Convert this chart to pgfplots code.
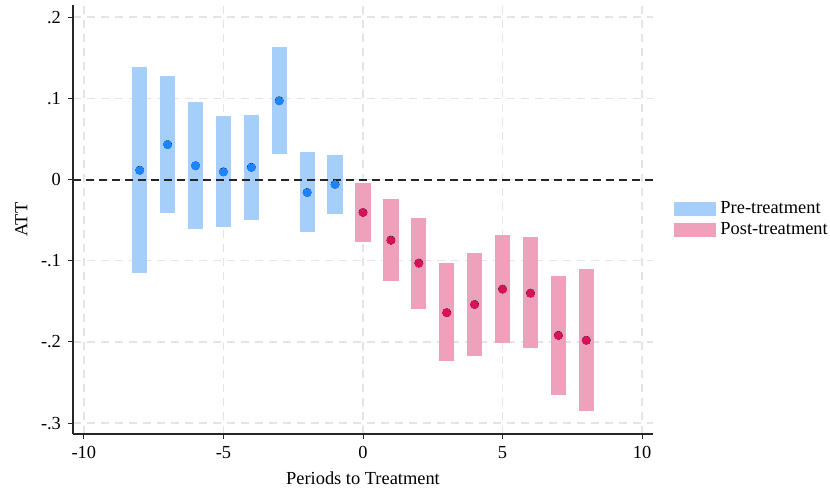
\documentclass[border=0pt]{standalone}
\usepackage{pgfplots}
\pgfplotsset{compat=1.18}
\usepackage{pgfplotstable}
\usepackage{fontspec}
\setmainfont{Liberation Serif}
\definecolor{prebar}{RGB}{166,206,250}
\definecolor{predot}{RGB}{26,133,255}
\definecolor{postbar}{RGB}{239,161,188}
\definecolor{postdot}{RGB}{216,18,88}
\definecolor{gridc}{RGB}{228,228,228}

\pgfplotstableread{
x y lo hi
-8 0.0114 -0.115 0.138
-7 0.043 -0.041 0.127
-6 0.017 -0.061 0.095
-5 0.0094 -0.059 0.078
-4 0.015 -0.050 0.080
-3 0.097 0.031 0.163
-2 -0.016 -0.065 0.0336
-1 -0.006 -0.042 0.030
}\pre

\pgfplotstableread{
x y lo hi
0 -0.0406 -0.077 -0.004
1 -0.0747 -0.125 -0.024
2 -0.103 -0.159 -0.047
3 -0.164 -0.224 -0.103
4 -0.154 -0.218 -0.090
5 -0.135 -0.201 -0.068
6 -0.140 -0.208 -0.071
7 -0.192 -0.265 -0.119
8 -0.198 -0.285 -0.110
}\post

\begin{document}
\begin{tikzpicture}
\useasboundingbox (-36.5pt,-29.5pt) rectangle (378.5pt,217pt);
\begin{axis}[
  at={(0,0)}, anchor=south west,
  scale only axis, width=290pt, height=214.5pt,
  xmin=-10.39, xmax=10.39, ymin=-0.3135, ymax=0.215,
  axis lines*=left,
  axis line style={line width=0.6pt, black!85},
  xtick={-10,-5,0,5,10},
  ytick={-0.3,-0.2,-0.1,0,0.1,0.2},
  yticklabels={-.3,-.2,-.1,0,.1,.2},
  tick align=outside,
  major tick length=2.5pt,
  tick style={line width=0.5pt, black!85},
  xmajorgrids, ymajorgrids,
  grid style={gridc, line width=0.7pt, dash pattern=on 4pt off 3pt},
  /pgf/number format/assume math mode=true,
  tick label style={font=\fontsize{9.2}{11}\selectfont},
  label style={font=\fontsize{9.2}{11}\selectfont},
  xlabel={Periods to Treatment},
  ylabel={ATT},
  legend style={draw=none, fill=none, at={(1.026,0.5)}, anchor=west,
    font=\fontsize{9.2}{11}\selectfont, row sep=-1pt,
    /tikz/every even column/.append style={column sep=2pt}},
  legend cell align=left,
  legend image code/.code={\fill[#1, draw=none] (0pt,-3.5pt) rectangle (21pt,3.5pt);},
]
\addplot[forget plot, only marks, mark=none,
  error bars/.cd, y dir=both, y explicit, error mark=none,
  error bar style={line width=7.65pt, prebar}]
  table[x=x, y=y, y error plus expr=\thisrow{hi}-\thisrow{y}, y error minus expr=\thisrow{y}-\thisrow{lo}] {\pre};
\addplot[forget plot, only marks, mark=none,
  error bars/.cd, y dir=both, y explicit, error mark=none,
  error bar style={line width=7.65pt, postbar}]
  table[x=x, y=y, y error plus expr=\thisrow{hi}-\thisrow{y}, y error minus expr=\thisrow{y}-\thisrow{lo}] {\post};
\addplot[forget plot, black!85, line width=1pt, dash pattern=on 4pt off 2.5pt] coordinates {(-10.39,0) (10.39,0)};
\addplot[forget plot, predot, only marks, mark=*, mark size=1.95pt, mark options={draw=predot, fill=predot, line width=0pt}] table[x=x, y=y] {\pre};
\addplot[forget plot, postdot, only marks, mark=*, mark size=1.95pt, mark options={draw=postdot, fill=postdot, line width=0pt}] table[x=x, y=y] {\post};
\addlegendimage{prebar}
\addlegendentry{Pre-treatment}
\addlegendimage{postbar}
\addlegendentry{Post-treatment}
\end{axis}
\end{tikzpicture}
\end{document}
